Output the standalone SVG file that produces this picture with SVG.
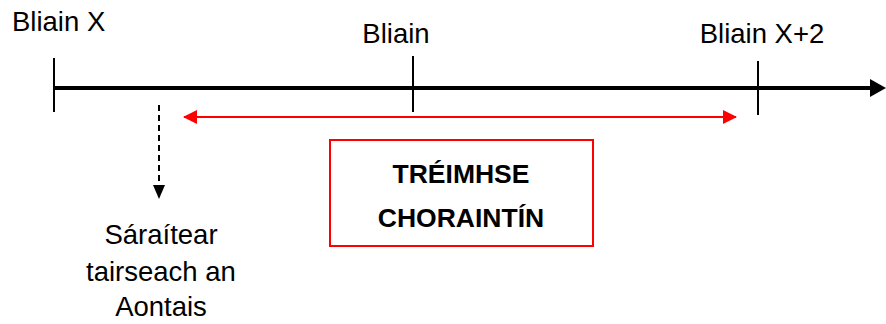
<svg xmlns="http://www.w3.org/2000/svg" width="886" height="324" viewBox="0 0 886 324">
<style>
.t{font-family:"Liberation Sans",Arial,sans-serif;font-size:27.5px;fill:#000}
.s{font-family:"Liberation Sans",Arial,sans-serif;font-size:27.5px;fill:#000}
.b{font-family:"Liberation Sans",Arial,sans-serif;font-size:26.5px;font-weight:bold;fill:#000}
.ax{stroke:#000;stroke-width:4;fill:none}
.tick{stroke:#000;stroke-width:2;fill:none}
</style>
<defs>
<marker id="ar" markerWidth="14" markerHeight="14" refX="13" refY="7" orient="auto-start-reverse" markerUnits="userSpaceOnUse" viewBox="0 0 14 14"><path d="M0,0 L14,7 L0,14 z" fill="#ff0000"/></marker>
</defs>
<g id="connectors">
<line class="ax" x1="54" y1="88" x2="874" y2="88"/>
<path d="M870,79 L886,88 L870,97 z" fill="#000"/>
<line class="tick" x1="54" y1="58" x2="54" y2="112"/>
<line class="tick" x1="413" y1="56" x2="413" y2="112"/>
<line class="tick" x1="758" y1="61" x2="758" y2="115"/>
<line x1="184" y1="117" x2="736" y2="117" stroke="#ff0000" stroke-width="2" marker-start="url(#ar)" marker-end="url(#ar)"/>
<line x1="159" y1="105" x2="159" y2="186" stroke="#000" stroke-width="2" stroke-dasharray="6,4"/>
<path d="M153,185 L165,185 L159,199 z" fill="#000"/>
</g>
<g id="label-bliain-x"><text class="t" x="12" y="31">Bliain X</text></g>
<g id="label-bliain"><text class="t" x="396" y="43" text-anchor="middle">Bliain</text></g>
<g id="label-bliain-x2"><text class="t" x="762" y="43" text-anchor="middle">Bliain X+2</text></g>
<g id="node-treimhse">
<rect x="330" y="140" width="263" height="106" fill="#fff" stroke="#ff0000" stroke-width="2"/>
<text class="b" x="461" y="183" text-anchor="middle">TRÉIMHSE</text>
<text class="b" x="461" y="227" text-anchor="middle">CHORAINTÍN</text>
</g>
<g id="node-saraitear">
<text class="s" x="161" y="244" text-anchor="middle">Sáraítear</text>
<text class="s" x="161" y="280.5" text-anchor="middle">tairseach an</text>
<text class="s" x="161" y="316" text-anchor="middle">Aontais</text>
</g>
</svg>
